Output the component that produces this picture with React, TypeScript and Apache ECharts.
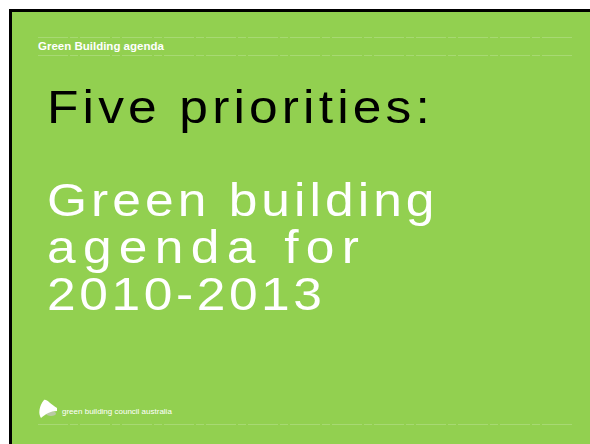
import React, { useEffect, useRef } from "react";
import * as echarts from "echarts";

const headerLabel = "Green Building agenda";
const titleLine = "Five priorities:";
const subtitleLines = ["Green building", "agenda for", "2010-2013"];
const footerLabel = "green building council australia";

const GREEN = "#92d050";

echarts.graphic.registerShape(
  "gbcaLogo",
  echarts.graphic.extendPath(
    "M 6 0 C 9 -1 12 4 19 8 L 19 11 C 12 11 8 14 3 18 C 0 14 1 6 6 0 Z",
    {}
  )
);

export default function App() {
  const ref = useRef<HTMLDivElement>(null);
  useEffect(() => {
    if (!ref.current) return;
    const chart = echarts.init(ref.current, null, { renderer: "svg" });
    const font = "'Liberation Sans', Arial, Helvetica, sans-serif";
    const big = 46;
    const sx = 1.12;
    const baselines = [216, 263, 310];
    const mid = (b: number) => b - big * 0.3465;
    const dashLine = (y: number) => ({
      type: "line",
      silent: true,
      shape: { x1: 38, y1: y, x2: 573, y2: y },
      style: { stroke: "rgba(255,255,255,0.2)", lineWidth: 1, lineDash: [30, 2, 8, 2] },
    });
    const bigText = (t: string, y: number, fill: string) => ({
      type: "text",
      silent: true,
      x: 47,
      y,
      scaleX: sx,
      style: {
        text: t,
        fill,
        font: `${big}px ${font}`,
        verticalAlign: "middle",
        align: "left",
      },
    });
    chart.setOption({
      animation: false,
      backgroundColor: "#ffffff",
      graphic: [
        { type: "rect", silent: true, shape: { x: 9, y: 9, width: 600, height: 440 }, style: { fill: "#000" } },
        { type: "rect", silent: true, shape: { x: 12, y: 12, width: 600, height: 440 }, style: { fill: GREEN } },
        dashLine(37.5),
        dashLine(55.5),
        dashLine(424.5),
        {
          type: "text",
          silent: true,
          x: 38,
          y: 46,
          style: {
            text: headerLabel,
            fill: "#fff",
            font: `bold 11.5px ${font}`,
            verticalAlign: "middle",
            align: "left",
          },
        },
        bigText(titleLine, mid(123), "#000"),
        ...subtitleLines.map((t, i) => bigText(t, mid(baselines[i]), "#fff")),
        {
          type: "ellipse",
          silent: true,
          shape: { cx: 51, cy: 413.5, rx: 5, ry: 2.5 },
          style: { fill: "#b9c9a4" },
        },
        {
          type: "gbcaLogo",
          silent: true,
          x: 38,
          y: 400,
          style: { fill: "#ffffff" },
        },
        {
          type: "text",
          silent: true,
          x: 62,
          y: 411.5,
          style: {
            text: footerLabel,
            fill: "#fff",
            font: `8px ${font}`,
            verticalAlign: "middle",
            align: "left",
          },
        },
      ],
    });
    const spacing: Record<string, number> = {
      [titleLine]: 3.7,
      [subtitleLines[0]]: 3.6,
      [subtitleLines[1]]: 6.5,
      [subtitleLines[2]]: 3.2,
    };
    ref.current.querySelectorAll("text").forEach((el) => {
      const s = spacing[(el.textContent || "").trim()];
      if (s !== undefined) {
        el.setAttribute("letter-spacing", String(s));
        (el as SVGElement).style.letterSpacing = `${s}px`;
      }
    });
    return () => chart.dispose();
  }, []);
  return (
    <div
      ref={ref}
      style={{ position: "absolute", left: 0, top: 0, width: 590, height: 444, overflow: "hidden" }}
    />
  );
}
